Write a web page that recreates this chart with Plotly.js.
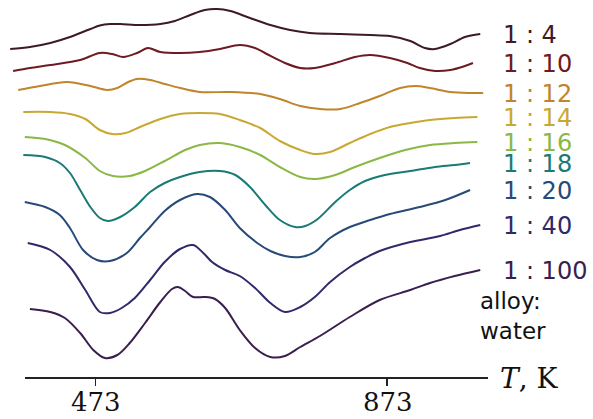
<!DOCTYPE html>
<html>
<head>
<meta charset="utf-8">
<script src="https://cdn.plot.ly/plotly-3.0.1.min.js"></script>
<style>html,body{margin:0;padding:0;background:#fff;}#chart{width:593px;height:419px;}</style>
</head>
<body>
<div id="chart"></div>
<script>
// Temperature (K) and offset signal (a.u.) for each alloy:water ratio
const labels = ["1 : 4", "1 : 10", "1 : 12", "1 : 14", "1 : 16", "1 : 18", "1 : 20", "1 : 40", "1 : 100"];
const tickVals = [473, 873];
const tickText = ["473", "873"];

const T_1_4 = [356,383,411,438,466,479,493,507,534,562,582,603,623,640,658,685,713,740,767,809,850,877,905,925,939,960,980,1001];
const S_1_4 = [33.1,33.3,33.7,34.3,35.1,35.45,35.6,35.6,35.5,35.6,35.9,36.5,37.0,37.1,36.9,36.2,35.5,35.0,34.7,34.6,34.5,34.4,33.9,33.2,33.1,33.6,34.3,34.6];

const T_1_10 = [360,383,411,452,479,496,511,530,545,562,589,616,644,671,692,708,733,754,774,802,829,850,877,901,918,939,960,980,991];
const S_1_10 = [30.9,31.2,31.5,32.0,32.7,32.6,32.3,32.7,33.2,32.8,32.7,32.8,33.1,33.5,33.2,32.6,31.7,31.2,31.2,31.7,32.3,32.5,32.2,31.7,31.2,30.9,31.0,31.4,31.7];

const T_1_12 = [367,397,434,466,489,503,518,530,548,568,589,616,658,699,726,754,781,809,836,863,891,912,932,960,987,1005];
const S_1_12 = [29.0,29.4,29.8,29.4,29.0,29.2,29.8,30.1,30.0,29.6,29.2,28.8,28.8,28.6,28.1,27.4,27.1,27.1,27.7,28.4,29.2,29.4,29.2,28.8,28.7,28.7];

const T_1_14 = [374,411,438,459,479,496,514,534,562,589,616,644,671,699,726,754,774,795,822,850,877,905,932,966,997];
const S_1_14 = [26.8,26.8,26.6,26.1,25.0,24.6,24.7,25.3,26.1,26.6,26.7,26.6,26.0,25.2,23.9,23.0,22.6,22.8,23.7,24.6,25.3,25.7,26.0,26.2,26.3];

const T_1_16 = [376,404,431,459,479,497,520,541,568,596,616,644,671,699,726,754,774,802,829,863,898,932,966,997];
const S_1_16 = [24.3,24.1,23.5,22.2,20.9,20.4,20.4,20.9,21.9,23.0,23.5,23.7,23.3,22.5,21.3,20.3,20.1,20.5,21.3,22.2,23.0,23.5,23.7,23.8];

const T_1_18 = [374,404,424,438,452,466,479,490,507,527,548,568,589,616,644,665,685,706,726,747,761,778,802,822,843,870,905,939,966,987];
const S_1_18 = [22.5,22.3,21.7,20.7,19.0,17.3,16.2,15.9,16.3,17.3,18.8,19.7,20.3,20.8,20.9,20.5,19.3,17.5,16.0,15.3,15.4,16.1,17.8,19.0,19.9,20.5,20.9,21.3,21.5,21.7];

const T_1_20 = [376,404,424,438,456,475,493,516,534,548,568,589,612,630,651,671,695,713,733,754,774,795,822,850,877,918,953,987];
const S_1_20 = [17.8,17.3,16.5,15.2,13.0,12.0,11.9,12.7,14.2,15.3,16.9,18.0,18.6,18.3,17.0,15.2,13.7,12.9,12.4,12.3,12.8,14.2,15.3,16.0,16.6,17.3,18.0,19.0];

const T_1_40 = [380,411,438,459,479,493,509,527,548,568,589,607,621,633,651,671,692,713,733,754,774,795,822,843,863,905,946,973,1001];
const S_1_40 = [13.7,13.0,11.3,9.0,6.8,6.7,7.2,8.2,10.0,11.8,13.1,13.5,12.7,11.8,11.0,10.4,9.2,7.7,6.8,7.3,8.3,9.8,11.3,12.2,12.9,13.8,14.4,15.0,15.5];

const T_1_100 = [383,411,431,452,470,486,503,520,541,562,578,586,596,607,623,637,651,671,692,713,733,754,781,822,863,905,932,966,1001];
const S_1_100 = [7.1,6.8,6.2,4.7,3.0,2.2,2.5,3.7,5.7,7.8,9.1,9.3,8.9,8.3,8.3,8.1,7.2,5.0,3.2,2.3,2.4,3.3,4.4,6.3,8.0,9.0,9.7,10.4,11.0];

const seriesT = [T_1_4, T_1_10, T_1_12, T_1_14, T_1_16, T_1_18, T_1_20, T_1_40, T_1_100];
const seriesS = [S_1_4, S_1_10, S_1_12, S_1_14, S_1_16, S_1_18, S_1_20, S_1_40, S_1_100];

// styles
const colors = ["#3d1a24", "#6e1a22", "#c0842c", "#c9a832", "#8ab845", "#1a7a76", "#284a78", "#2e2a6a", "#3a1e4e"];

const traces = seriesT.map((t, i) => ({
  x: t, y: seriesS[i], type: "scatter", mode: "lines",
  line: {color: colors[i], width: 2, shape: "spline", smoothing: 0.9},
  hoverinfo: "skip", showlegend: false
}));

const annotations = labels.map((lab, i) => ({
  text: lab, xref: "paper", yref: "y",
  x: 501 / 593, y: seriesS[i][seriesS[i].length - 1],
  xanchor: "left", yanchor: "middle", showarrow: false, yshift: -1,
  font: {family: "DejaVu Sans", size: 24, color: colors[i]}
}));
annotations.push({
  text: "alloy:<br>water", xref: "paper", yref: "paper",
  x: 478 / 593, y: 0.165, xanchor: "left", yanchor: "middle", align: "left",
  showarrow: false, font: {family: "DejaVu Sans", size: 23, color: "#111"}
});
annotations.push({
  text: "<i>T</i>, K", xref: "paper", yref: "paper",
  x: 498 / 593, y: 0, xanchor: "left", yanchor: "middle",
  showarrow: false, font: {family: "DejaVu Serif", size: 28, color: "#111"}
});
tickVals.forEach((v, i) => annotations.push({
  text: tickText[i], xref: "x", yref: "paper", x: v, y: 0,
  xanchor: "center", yanchor: "top", yshift: -7, xshift: 1, showarrow: false,
  font: {family: "DejaVu Serif", size: 26, color: "#111"}
}));

const layout = {
  width: 593, height: 419,
  margin: {l: 0, r: 0, t: 0, b: 41},
  paper_bgcolor: "#fff", plot_bgcolor: "#fff",
  xaxis: {
    range: [342, 1155.7], showgrid: false, zeroline: false, showline: false,
    tickvals: tickVals, ticks: "outside", ticklen: 7, showticklabels: false,
    tickwidth: 1.6, tickcolor: "#222"
  },
  yaxis: {range: [0.2, 38.0], visible: false, showgrid: false, zeroline: false},
  shapes: [{
    type: "line", xref: "x", yref: "paper", x0: 376.3, x1: 1011.6, y0: 0, y1: 0,
    line: {color: "#222", width: 2}
  }],
  annotations: annotations,
  showlegend: false
};

Plotly.newPlot("chart", traces, layout, {displayModeBar: false, staticPlot: true});
</script>
</body>
</html>
